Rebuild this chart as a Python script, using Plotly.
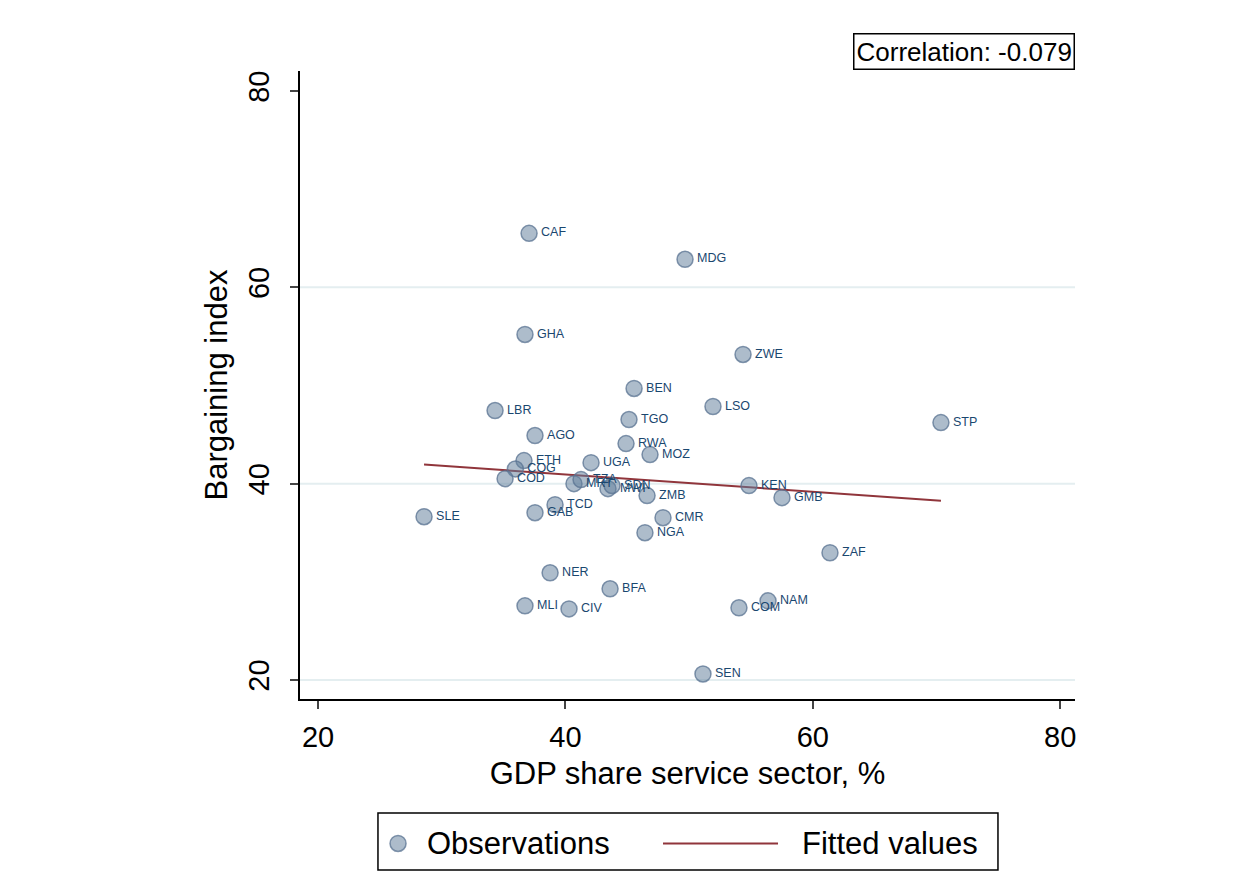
import plotly.graph_objects as go

countries = ["CAF", "MDG", "GHA", "ZWE", "BEN", "LBR", "LSO", "TGO", "STP", "AGO",
             "RWA", "MOZ", "ETH", "UGA", "COG", "COD", "MRT", "TZA", "MWI", "SDN",
             "ZMB", "KEN", "GMB", "TCD", "GAB", "SLE", "CMR", "NGA", "ZAF", "NER",
             "BFA", "MLI", "CIV", "NAM", "COM", "SEN"]
service_share = [37.06, 49.67, 36.73, 54.36, 45.55, 34.31, 51.93, 45.14, 70.36, 37.54,
                 44.90, 46.84, 36.65, 42.07, 35.95, 35.12, 40.69, 41.26, 43.44, 43.77,
                 46.60, 54.84, 57.51, 39.16, 37.54, 28.57, 47.89, 46.43, 61.39, 38.76,
                 43.61, 36.73, 40.29, 56.38, 54.03, 51.12]
bargaining = [65.5, 62.86, 55.2, 53.16, 49.7, 47.45, 47.86, 46.53, 46.22, 44.9,
              44.08, 42.96, 42.35, 42.14, 41.5, 40.51, 40.0, 40.41, 39.49, 39.8,
              38.78, 39.8, 38.57, 37.86, 37.04, 36.63, 36.53, 35.0, 32.96, 30.92,
              29.29, 27.55, 27.24, 28.06, 27.35, 20.61]

fit_x = [28.57, 70.36]
fit_y = [41.94, 38.27]

x_ticks = [20, 40, 60, 80]
y_ticks = [20, 40, 60, 80]
grid_vals = [20, 40, 60]
corr_text = "Correlation: -0.079"

FONT = "Liberation Sans, Arial, sans-serif"

fig = go.Figure()

fig.add_trace(go.Scatter(
    x=fit_x, y=fit_y, mode="lines",
    line=dict(color="#90353b", width=2),
    name="Fitted values", showlegend=False, hoverinfo="skip"))

fig.add_trace(go.Scatter(
    x=service_share, y=bargaining, mode="markers+text",
    text=["&#8202;" + c for c in countries], textposition="middle right",
    textfont=dict(family=FONT, size=12.5, color="#1a476f"),
    marker=dict(size=16, color="rgba(97,126,155,0.52)",
                line=dict(color="rgba(90,115,145,0.75)", width=1.5)),
    name="Observations", showlegend=False, cliponaxis=False))

shapes = []
for g in grid_vals:
    shapes.append(dict(type="line", xref="paper", yref="y", x0=0, x1=1, y0=g, y1=g,
                       line=dict(color="#e4eef0", width=2), layer="below"))

# Manual legend
LY = -0.2300
shapes.append(dict(type="rect", xref="paper", yref="paper",
                   x0=0.1006, x1=0.9006, y0=-0.2723, y1=-0.1815,
                   line=dict(color="black", width=1.5)))
shapes.append(dict(type="circle", xref="paper", yref="paper",
                   xsizemode="pixel", ysizemode="pixel",
                   xanchor=0.1265, yanchor=LY,
                   x0=-8, x1=8, y0=-8, y1=8,
                   fillcolor="rgba(97,126,155,0.52)",
                   line=dict(color="rgba(90,115,145,0.75)", width=1.5)))
shapes.append(dict(type="line", xref="paper", yref="paper",
                   x0=0.4684, x1=0.6168, y0=LY, y1=LY,
                   line=dict(color="#90353b", width=2)))

annotations = [
    dict(text="Observations", xref="paper", yref="paper", x=0.1613, y=LY,
         xanchor="left", yanchor="middle", showarrow=False,
         font=dict(family=FONT, size=31, color="black")),
    dict(text="Fitted values", xref="paper", yref="paper", x=0.6452, y=LY,
         xanchor="left", yanchor="middle", showarrow=False,
         font=dict(family=FONT, size=31, color="black")),
    dict(text=corr_text, xref="paper", yref="paper", x=1.0, y=1.0,
         xanchor="right", yanchor="bottom", yshift=1, showarrow=False,
         bordercolor="black", borderwidth=1.5, borderpad=2, bgcolor="white",
         font=dict(family=FONT, size=26, color="black")),
]

fig.update_layout(
    width=1260, height=896,
    paper_bgcolor="white", plot_bgcolor="white",
    margin=dict(l=292, r=193, t=63, b=205),
    font=dict(family=FONT, color="black"),
    shapes=shapes, annotations=annotations,
    showlegend=False,
)

fig.update_xaxes(
    range=[18.54, 81.2], tickvals=x_ticks, ticks="outside", ticklen=8, tickwidth=1.5,
    ticklabelstandoff=3,
    showline=True, linecolor="black", linewidth=1.5, showgrid=False, zeroline=False,
    tickfont=dict(family=FONT, size=29, color="black"),
    title=dict(text="GDP share service sector, %", font=dict(family=FONT, size=31, color="black"),
               standoff=11))

fig.update_yaxes(
    range=[18.06, 82.04], tickvals=y_ticks, ticks="outside", ticklen=8, tickwidth=1.5,
    tickangle=-90, ticklabelstandoff=10,
    showline=True, linecolor="black", linewidth=1.5, showgrid=False, zeroline=False,
    tickfont=dict(family=FONT, size=29, color="black"),
    title=dict(text="Bargaining index", font=dict(family=FONT, size=31, color="black"),
               standoff=6))

fig.write_html("out.html")
